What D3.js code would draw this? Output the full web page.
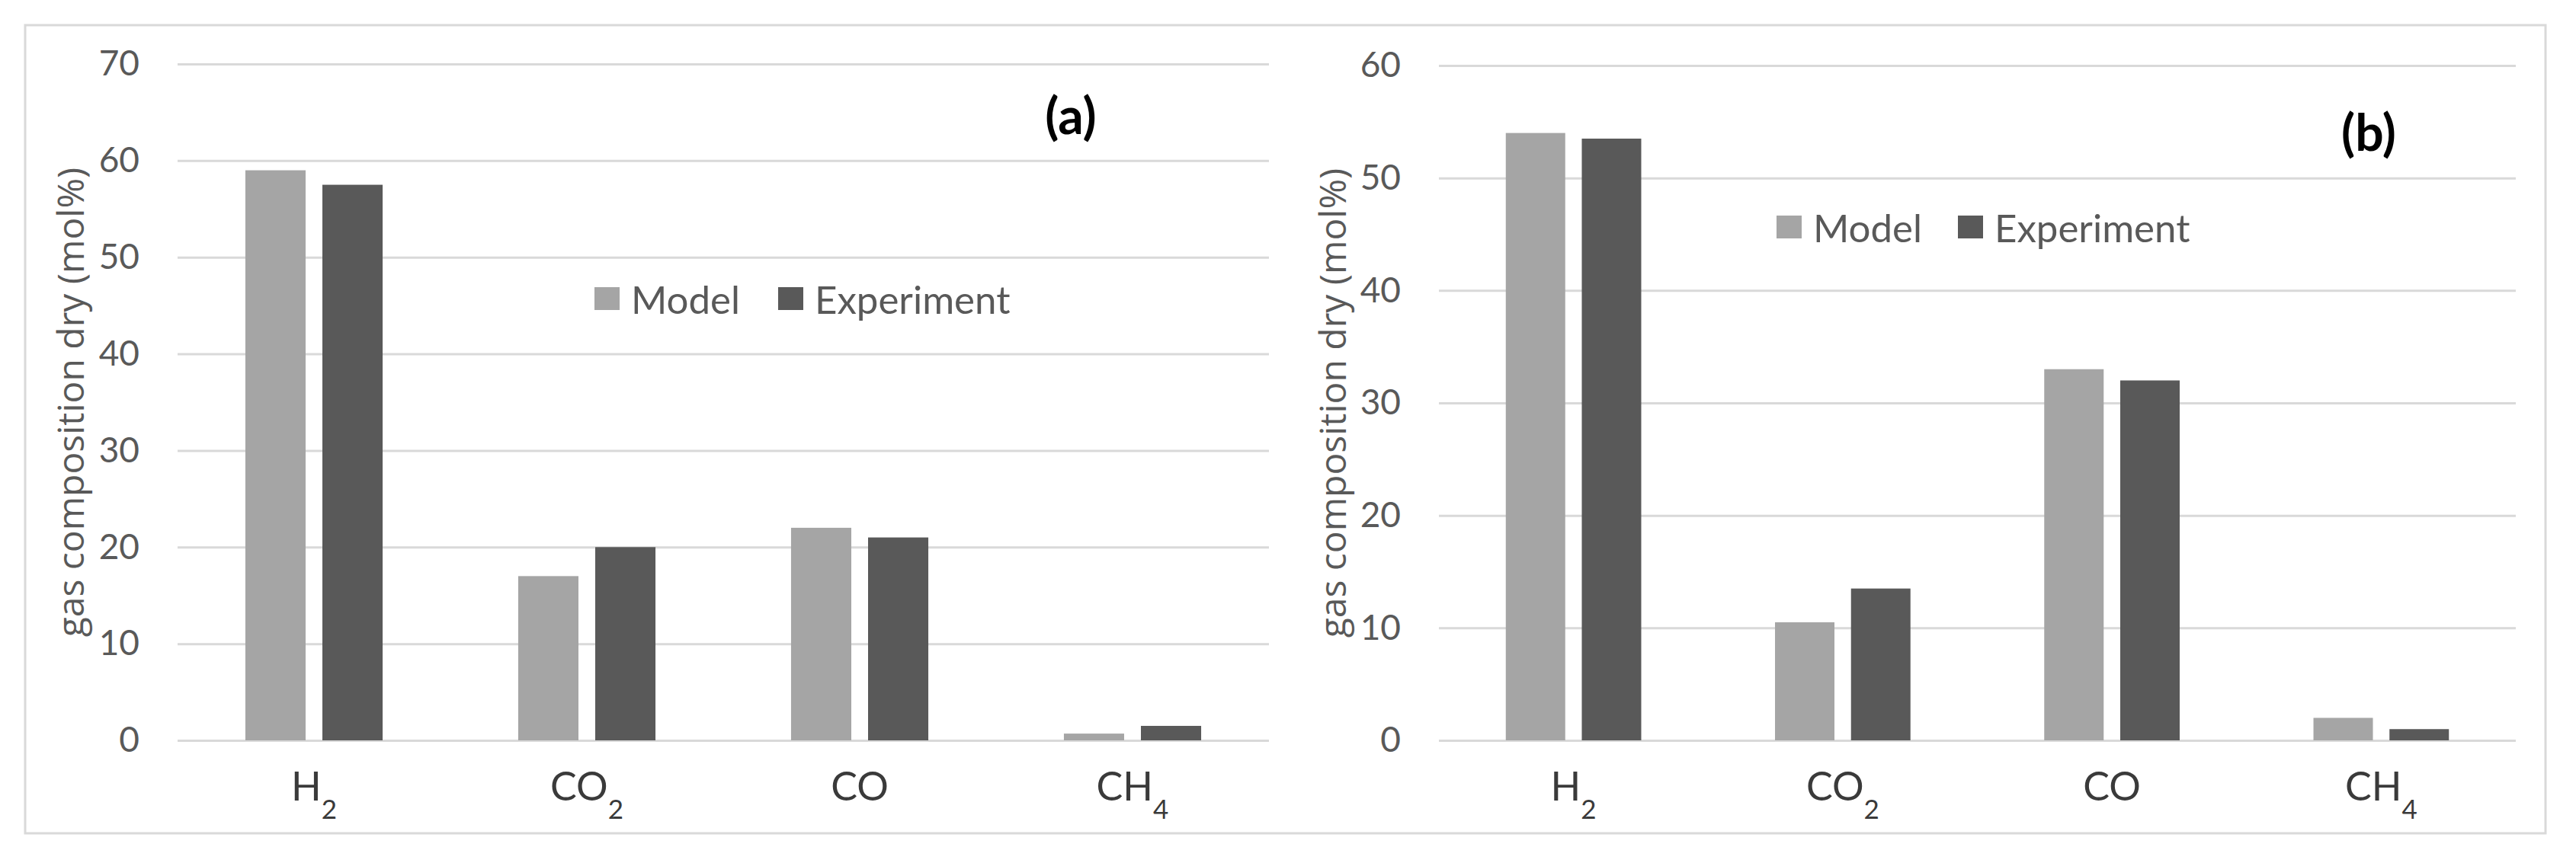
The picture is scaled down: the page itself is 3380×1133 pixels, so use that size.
<!DOCTYPE html>
<html lang="en">
<head>
<meta charset="UTF-8">
<title>Gas composition: Model vs Experiment</title>
<style>
  body { margin: 0; background: #fff; }
  svg { display: block; }
  .tick text { font-family: Lato, "Open Sans", sans-serif; font-size: 46px; fill: #595959; }
  .grid line { stroke: #d9d9d9; stroke-width: 3; }
  .cat { font-family: Lato, sans-serif; font-size: 52px; fill: #3a3a3a; }
  .legend text { font-family: Lato, sans-serif; font-size: 51px; fill: #595959; }
  .ytitle { font-family: "Open Sans", sans-serif; font-size: 48px; fill: #595959; }
  .panel-tag { font-family: Lato, sans-serif; font-size: 66px; font-weight: bold; fill: #000; }
</style>
</head>
<body>
<svg id="chart" width="3380" height="1133"></svg>
<script src="https://d3js.org/d3.v7.min.js"></script>
<script>
// --- data ---
const categories = ["H2", "CO2", "CO", "CH4"];
const categoryBase = ["H", "CO", "CO", "CH"];
const categorySub = ["2", "2", "", "4"];
const seriesNames = ["Model", "Experiment"];
const seriesColors = ["#a5a5a5", "#595959"];

const modelA = [59, 17, 22, 0.7];
const experimentA = [57.5, 20, 21, 1.5];
const ticksA = [0, 10, 20, 30, 40, 50, 60, 70];

const modelB = [54, 10.5, 33, 2];
const experimentB = [53.5, 13.5, 32, 1];
const ticksB = [0, 10, 20, 30, 40, 50, 60];

const yTitle = "gas composition dry (mol%)";

const svg = d3.select("#chart");

// outer frame
svg.append("rect")
  .attr("x", 33).attr("y", 33)
  .attr("width", 3307).attr("height", 1061)
  .attr("fill", "none").attr("stroke", "#d9d9d9").attr("stroke-width", 3);

function drawPanel(p) {
  const g = svg.append("g");

  const y = d3.scaleLinear()
    .domain([0, d3.max(p.ticks)])
    .range([p.yZero, p.yTop]);

  const x0 = d3.scaleBand()
    .domain(categories)
    .range([p.left, p.right]);

  const x1 = d3.scaleBand()
    .domain(seriesNames)
    .range([0, x0.bandwidth()])
    .paddingInner(0.218)
    .paddingOuter(0.88);

  // gridlines + tick labels
  g.append("g")
    .attr("class", "grid")
    .attr("transform", `translate(${p.left},0)`)
    .call(d3.axisLeft(y).tickValues(p.ticks).tickSize(-(p.right - p.left)).tickPadding(50))
    .call(a => a.select(".domain").remove());

  // bars
  const rows = categories.map((c, i) => ({ cat: c, vals: [p.model[i], p.experiment[i]] }));
  g.append("g").selectAll("g")
    .data(rows)
    .join("g")
    .attr("transform", d => `translate(${x0(d.cat)},0)`)
    .selectAll("rect")
    .data(d => d.vals.map((v, j) => ({ s: seriesNames[j], v, color: seriesColors[j] })))
    .join("rect")
    .attr("x", d => x1(d.s))
    .attr("width", x1.bandwidth())
    .attr("y", d => y(d.v))
    .attr("height", d => y(0) - y(d.v))
    .attr("fill", d => d.color);

  // category labels with subscripts
  const cats = g.append("g").selectAll("text")
    .data(categories)
    .join("text")
    .attr("class", "cat")
    .attr("x", d => x0(d) + x0.bandwidth() / 2)
    .attr("y", 1051)
    .attr("text-anchor", "middle");
  cats.append("tspan").text((d, i) => categoryBase[i]);
  cats.append("tspan")
    .attr("dy", 24)
    .attr("font-size", 35)
    .text((d, i) => categorySub[i]);

  // y axis title
  g.append("text")
    .attr("class", "ytitle")
    .attr("transform", `translate(${p.titleX},${(p.yTop + p.yZero) / 2}) rotate(-90)`)
    .attr("text-anchor", "middle")
    .attr("dominant-baseline", "central")
    .text(yTitle);

  // legend
  const lg = g.append("g").attr("class", "legend");
  seriesNames.forEach((s, j) => {
    lg.append("rect")
      .attr("x", p.legendX[j]).attr("y", p.legendY - 15)
      .attr("width", 33).attr("height", 30)
      .attr("fill", seriesColors[j]);
    lg.append("text")
      .attr("x", p.legendX[j] + 48).attr("y", p.legendY)
      .attr("dominant-baseline", "central")
      .text(s);
  });

  // panel tag
  g.append("text")
    .attr("class", "panel-tag")
    .attr("x", p.tagX).attr("y", p.tagY)
    .attr("text-anchor", "middle")
    .text(p.tag);
}

drawPanel({
  model: modelA, experiment: experimentA, ticks: ticksA,
  left: 233, right: 1665, yTop: 84, yZero: 972,
  titleX: 91, legendX: [780, 1021], legendY: 392,
  tag: "(a)", tagX: 1405, tagY: 176
});

drawPanel({
  model: modelB, experiment: experimentB, ticks: ticksB,
  left: 1888, right: 3301, yTop: 86, yZero: 972,
  titleX: 1747, legendX: [2331, 2569], legendY: 298,
  tag: "(b)", tagX: 3108, tagY: 198
});
</script>
</body>
</html>
